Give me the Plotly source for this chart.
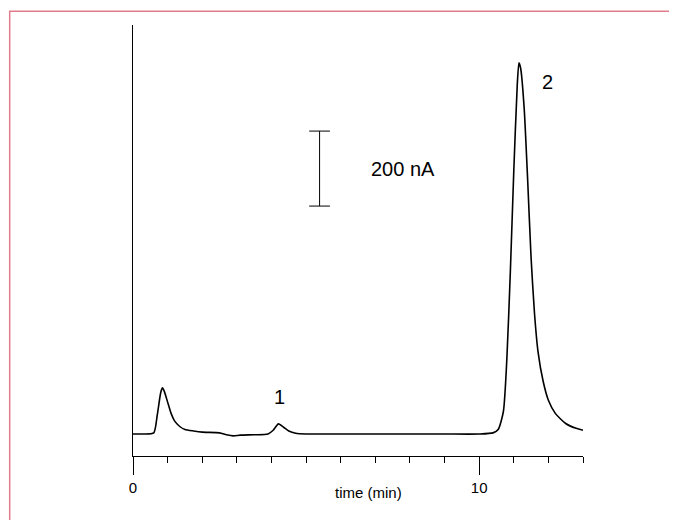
import plotly.graph_objects as go

# chromatogram: time (min) vs current (nA)
time_min = [0, 0.3, 0.6, 0.7, 0.8, 0.85, 0.9, 1.0, 1.1, 1.2, 1.35, 1.5, 1.75, 2.0, 2.5, 2.7, 2.9, 3.1, 3.5, 3.9,
            4.05, 4.2, 4.35, 4.5, 4.7, 5.0, 6.0, 7.0, 8.0, 9.0, 10.0, 10.4, 10.55, 10.7, 10.8, 10.9, 11.0,
            11.1, 11.15, 11.2, 11.3, 11.4, 11.5, 11.6, 11.7, 11.85, 12.0, 12.2, 12.5, 12.8, 13.0]
signal_nA = [0, 0, 3, 50, 110, 123, 115, 85, 55, 35, 20, 12, 8, 5, 3, -2, -5, -3, -2, 0,
             10, 27, 18, 8, 2, 0, 0, 0, 0, 0, 0, 3, 12, 60, 200, 430, 700,
             930, 990, 975, 870, 680, 470, 320, 220, 140, 90, 55, 28, 15, 10]

scale_bar_t = 5.39
scale_bar_nA = [608, 808]
scale_label = "200 nA"
peak_labels = ["1", "2"]
peak_t = [4.24, 11.96]
peak_nA = [100, 939]

fig = go.Figure()
fig.add_trace(go.Scatter(x=time_min, y=signal_nA, mode="lines",
                         line=dict(color="black", width=1.6, shape="spline", smoothing=0.6)))

# scale bar with caps
cap = 0.3
fig.add_trace(go.Scatter(
    x=[scale_bar_t, scale_bar_t, None, scale_bar_t - cap, scale_bar_t + cap, None, scale_bar_t - cap, scale_bar_t + cap],
    y=[scale_bar_nA[0], scale_bar_nA[1], None, scale_bar_nA[0], scale_bar_nA[0], None, scale_bar_nA[1], scale_bar_nA[1]],
    mode="lines", line=dict(color="black", width=1)))

fig.add_annotation(x=7.8, y=sum(scale_bar_nA) / 2, text=scale_label, showarrow=False,
                   font=dict(size=20, color="black"))
for lab, t, v in zip(peak_labels, peak_t, peak_nA):
    fig.add_annotation(x=t, y=v, text=lab, showarrow=False, font=dict(size=20, color="black"))

fig.add_annotation(x=6.8, y=-0.11, yref="paper", text="time (min)", showarrow=False,
                   font=dict(size=15, color="black"))

# pink frame
fig.add_shape(type="rect", xref="paper", yref="paper", x0=-0.274, x1=1.25, y0=-0.25, y1=1.032,
              line=dict(color="#e27c8c", width=1.5), layer="below")

fig.update_xaxes(range=[0, 13], showline=True, linecolor="black", linewidth=1,
                 tickmode="array", tickvals=[0, 10], ticktext=["0", "10"],
                 ticks="outside", ticklen=18, tickcolor="black",
                 minor=dict(dtick=1, ticks="outside", ticklen=6, tickcolor="black"),
                 showgrid=False, zeroline=False, tickfont=dict(size=15, color="black"))
fig.update_yaxes(range=[-58.7, 1091], showline=True, linecolor="black", linewidth=1,
                 showticklabels=False, ticks="", showgrid=False, zeroline=False)

fig.update_layout(width=677, height=520, margin=dict(l=125, r=102, t=17, b=72),
                  plot_bgcolor="white", paper_bgcolor="white", showlegend=False,
                  font=dict(family="Liberation Sans, Arial"))

fig.write_html("out.html")
